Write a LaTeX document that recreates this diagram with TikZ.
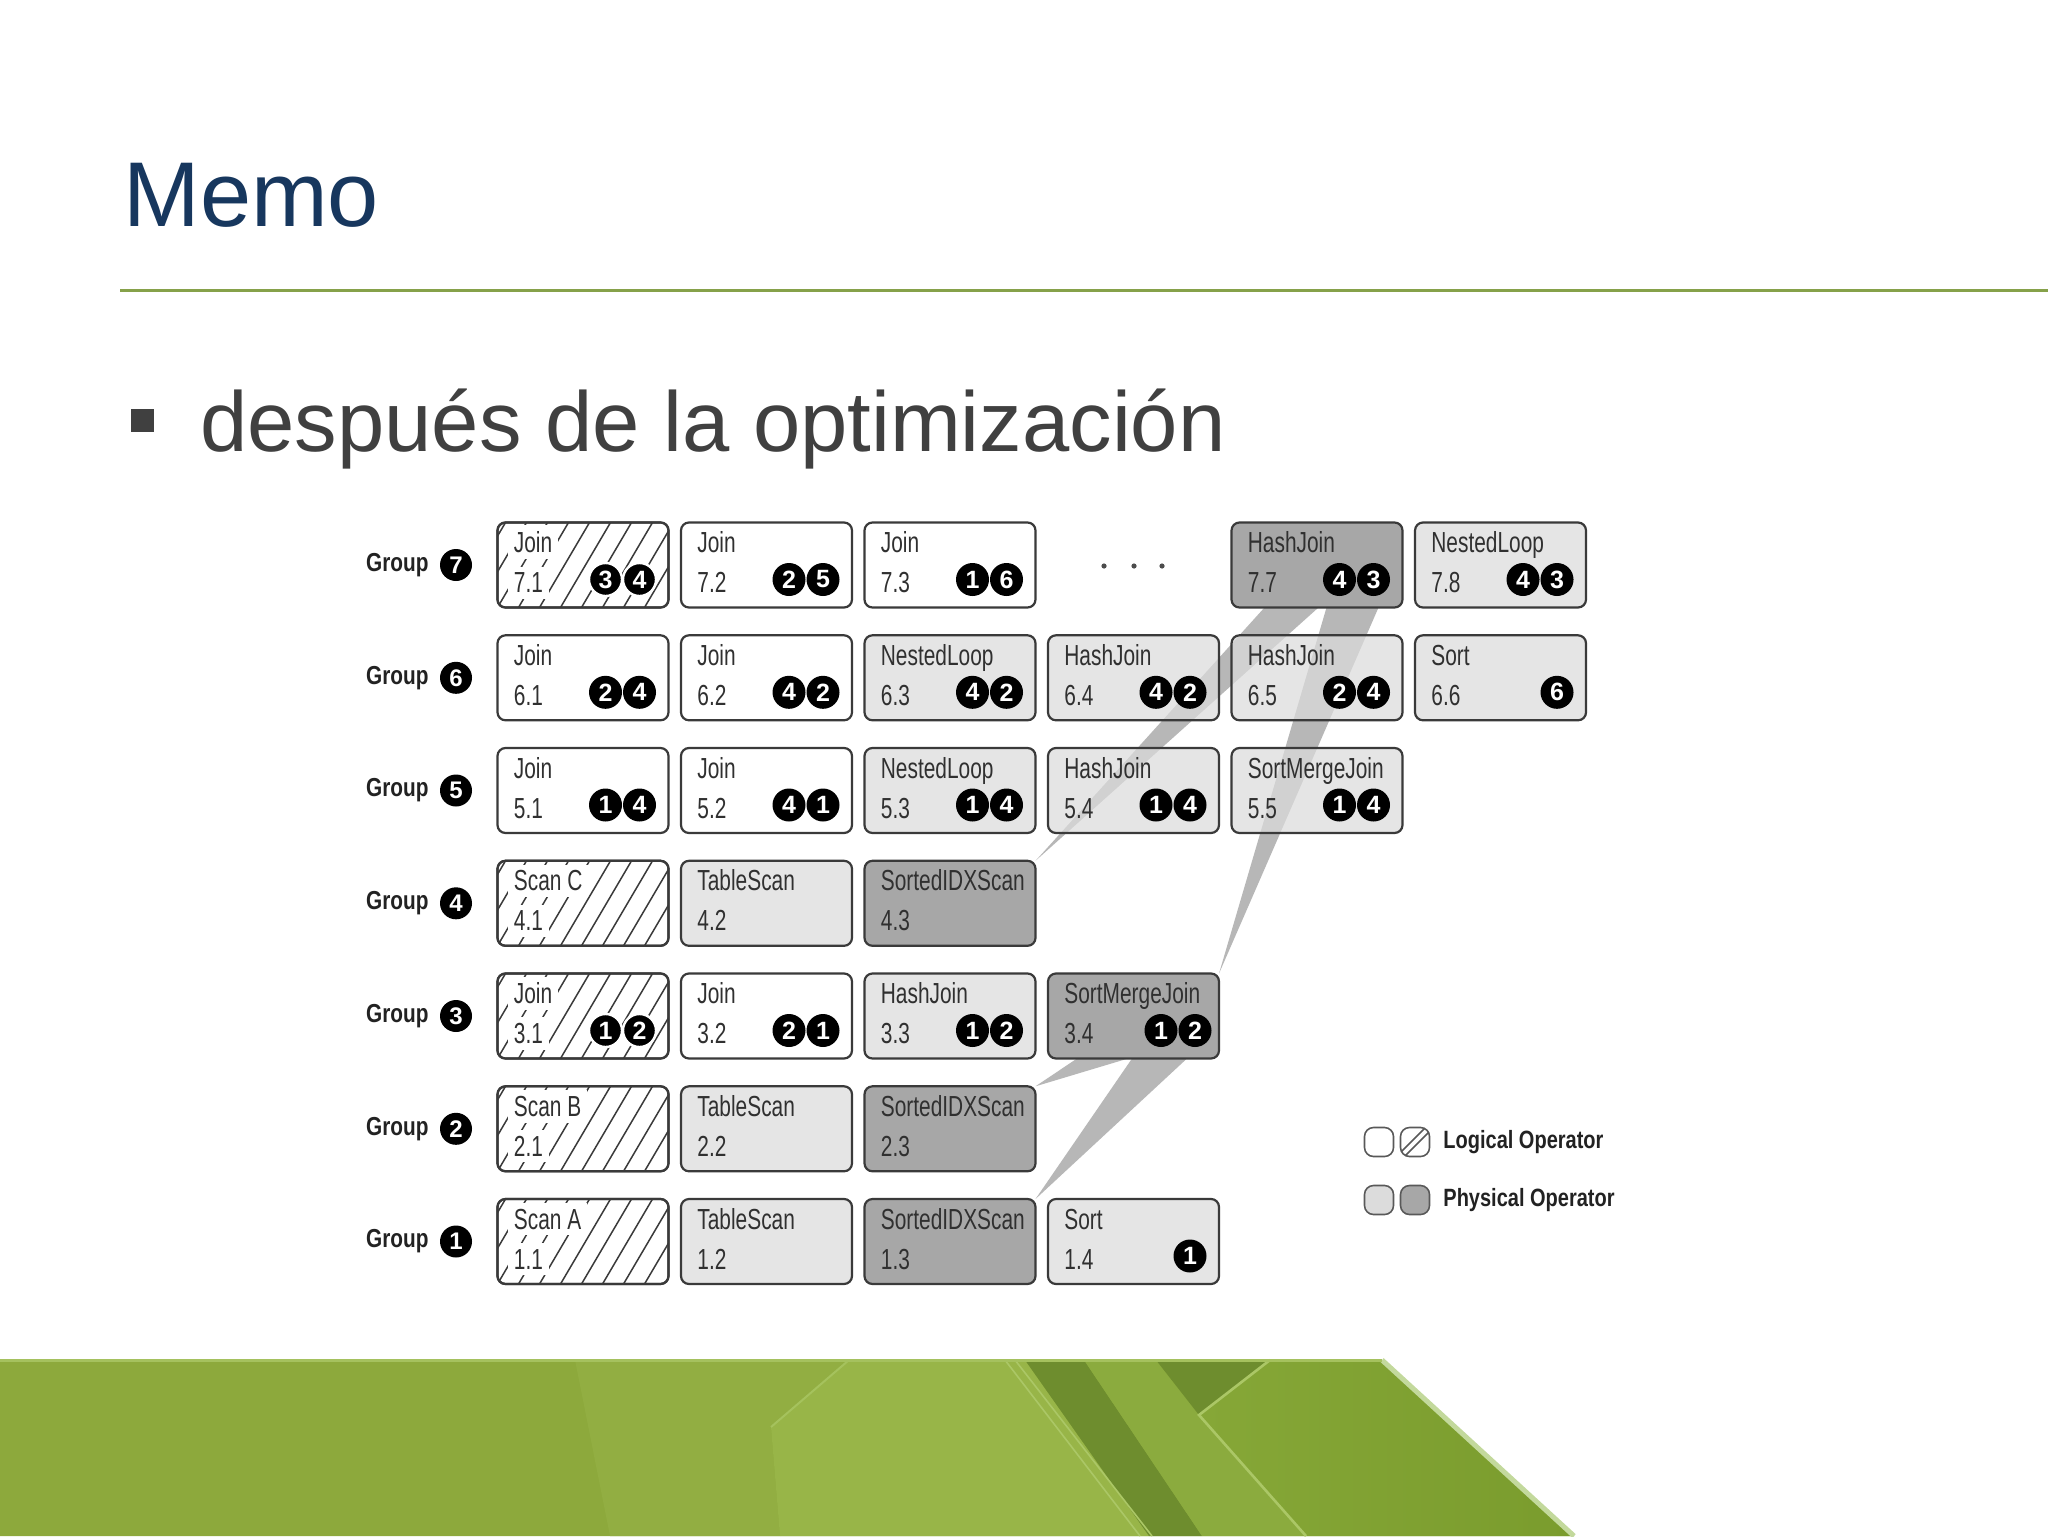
\documentclass[tikz,border=0pt]{standalone}
\usepackage{fontspec}
\setmainfont{Liberation Sans}
\newfontfamily\boxfont[FakeStretch=0.72]{Liberation Sans}
\newfontfamily\grpfont[FakeStretch=0.8]{Liberation Sans}
\usetikzlibrary{calc,backgrounds}

\definecolor{titleblue}{HTML}{17375E}
\definecolor{rulegreen}{HTML}{86A14A}
\definecolor{bodygray}{HTML}{404040}
\definecolor{boxedge}{HTML}{3A3A3A}
\definecolor{boxlight}{HTML}{DCDCDC}
\definecolor{boxdark}{HTML}{A7A7A7}
\definecolor{bandgray}{HTML}{B7B7B7}
\definecolor{optextc}{HTML}{303030}
\definecolor{grptextc}{HTML}{222222}
\definecolor{bnbase}{HTML}{8DA93C}
\definecolor{bnlight}{HTML}{92AE42}
\definecolor{bnbright}{HTML}{98B548}
\definecolor{bndark}{HTML}{6E8D2E}
\definecolor{bnmid}{HTML}{8BAB3E}
\definecolor{bnright}{HTML}{86A737}
\definecolor{bnrightd}{HTML}{7A9C2D}
\definecolor{bnline}{HTML}{ABC766}
\definecolor{bnedge}{HTML}{C3D99C}

\tikzset{
  opbase/.style={rectangle, rounded corners=4pt, draw=boxedge, line width=1.1pt,
    minimum width=85.5pt, minimum height=42.5pt, inner sep=0pt, outer sep=0pt, anchor=north west},
  logbox/.style={opbase, fill=white},
  physlight/.style={opbase, fill=boxlight, fill opacity=0.72},
  physdark/.style={opbase, fill=boxdark},
  hatchbox/.style={opbase, fill=white},
  hatchline/.style={draw=boxedge, line width=0.75pt},
  optext/.style={font=\boxfont\fontsize{14.5pt}{16pt}\selectfont, text=optextc, inner sep=0pt, anchor=base west},
  kid/.style={circle, fill=black, text=white, minimum size=16.5pt, inner sep=0pt,
    font=\bfseries\fontsize{12.5pt}{13pt}\selectfont},
  hkid/.style={kid, draw=white, line width=1.2pt},
  grplbl/.style={font=\grpfont\bfseries\fontsize{13pt}{14pt}\selectfont, text=grptextc, inner sep=0pt, anchor=east},
  grpnum/.style={circle, fill=black, text=white, minimum size=16pt, inner sep=0pt,
    font=\bfseries\fontsize{12pt}{13pt}\selectfont},
  legicon/.style={rectangle, rounded corners=4.5pt, draw=black!65, line width=0.8pt,
    minimum size=14.5pt, inner sep=0pt, outer sep=0pt},
  legtext/.style={font=\grpfont\bfseries\fontsize{12.5pt}{14pt}\selectfont, text=grptextc, inner sep=0pt, anchor=west},
  titletext/.style={font=\fontsize{46pt}{50pt}\selectfont, text=titleblue, inner sep=0pt, anchor=base west},
  bullettext/.style={font=\fontsize{42.5pt}{46pt}\selectfont, text=bodygray, inner sep=0pt, anchor=base west},
}

% name, x, y, style, operator, number
\newcommand{\opbox}[6]{%
  \node[#4] (#1) at (#2,#3) {};
  \node[optext] (#1-op) at ($(#1.north west)+(16,30)$) {#5};
  \node[optext] (#1-num) at ($(#1.north west)+(16,70)$) {#6};
}
% name, x, y, operator, number
\newcommand{\hatchedbox}[5]{%
  \node[hatchbox] (#1) at (#2,#3) {};
  \begin{scope}
    \clip[rounded corners=4pt] (#1.north west) rectangle (#1.south east);
    \foreach \k in {-3,...,8} \draw[hatchline] ($(#1.south west)+(\k*21,0)$) -- ++(50,-85);
  \end{scope}
  \draw[draw=boxedge, line width=1.1pt, rounded corners=4pt] (#1.north west) rectangle (#1.south east);
  \node[optext, fill=white, inner sep=3pt] (#1-op) at ($(#1.north west)+(10,30)$) {#4};
  \node[optext, fill=white, inner sep=3pt] (#1-num) at ($(#1.north west)+(10,70)$) {#5};
}
\newcommand{\kids}[3]{%
  \node[kid] (#1-a) at ($(#1.north west)+(108,57)$) {#2};
  \node[kid] (#1-b) at ($(#1.north west)+(142,57)$) {#3};
}
\newcommand{\hkids}[3]{%
  \node[hkid] (#1-a) at ($(#1.north west)+(108,57)$) {#2};
  \node[hkid] (#1-b) at ($(#1.north west)+(142,57)$) {#3};
}
\newcommand{\onekid}[2]{%
  \node[kid] (#1-a) at ($(#1.north west)+(142,57)$) {#2};
}

\def\cA{497.5}\def\cB{681}\def\cC{864.5}\def\cD{1048}\def\cE{1231.5}\def\cF{1415}
\def\rG{522.5}\def\rF{635.3}\def\rE{748}\def\rD{860.8}\def\rC{973.5}\def\rB{1086.3}\def\rA{1199}

\begin{document}
\begin{tikzpicture}[x=0.5pt,y=-0.5pt]
\useasboundingbox (0,0) rectangle (2048,1536);

% ---------- bottom banner ----------
\fill[bnbase] (0,1360) -- (1382,1360) -- (1574,1536) -- (0,1536) -- cycle;
\fill[bnlight] (575,1360) -- (849,1360) -- (771,1427) -- (780,1536) -- (610,1536) -- cycle;
\fill[bnbright] (849,1360) -- (1025,1360) -- (1149,1536) -- (780,1536) -- (771,1427) -- cycle;
\fill[bndark] (1025,1360) -- (1084,1360) -- (1202,1536) -- (1149,1536) -- cycle;
\fill[bnmid] (1084,1360) -- (1156,1360) -- (1199,1415) -- (1306,1536) -- (1202,1536) -- cycle;
\fill[bndark] (1156,1360) -- (1270,1360) -- (1199,1415) -- cycle;
\shade[left color=bnright, right color=bnrightd] (1270,1360) -- (1382,1360) -- (1574,1536) -- (1306,1536) -- (1199,1415) -- cycle;
\draw[bnline, line width=0.8pt] (1005,1360) -- (1140,1536);
\draw[bnline, line width=0.8pt] (1015,1360) -- (1152,1536);
\draw[bnline!70!bnbright, line width=1pt] (849,1360) -- (771,1427);
\draw[bnline, line width=1.3pt] (1270,1360) -- (1199,1415) -- (1306,1536);
\draw[bnedge, line width=2.5pt] (1382,1360) -- (1574,1536);
\draw[bnline!80!bnbase, line width=1.5pt] (0,1360) -- (1382,1360);

% ---------- title ----------
\node[titletext] (title) at (123,226) {Memo};
\draw[rulegreen, line width=1.5pt] (120,290) -- (2048,290);
\fill[bodygray] (131,409) rectangle (154,432);
\node[bullettext] (bullet) at (200,451) {después de la optimización};

% ---------- group labels ----------
\foreach \g/\yy in {7/\rG, 6/\rF, 5/\rE, 4/\rD, 3/\rC, 2/\rB, 1/\rA} {
  \node[grplbl] (grp\g) at (429,\yy+42.5) {Group};
  \node[grpnum] (grpc\g) at (456,\yy+42.5) {\g};
}

% ---------- row 7 ----------
\hatchedbox{b71}{\cA}{\rG}{Join}{7.1}\hkids{b71}{3}{4}
\opbox{b72}{\cB}{\rG}{logbox}{Join}{7.2}\kids{b72}{2}{5}
\opbox{b73}{\cC}{\rG}{logbox}{Join}{7.3}\kids{b73}{1}{6}
\foreach \dx in {1104,1134,1162} \fill[black!70] (\dx,566) circle (2.6);
\opbox{b77}{\cE}{\rG}{physdark}{HashJoin}{7.7}\kids{b77}{4}{3}
\opbox{b78}{\cF}{\rG}{physlight}{NestedLoop}{7.8}\kids{b78}{4}{3}

% ---------- row 6 ----------
\opbox{b61}{\cA}{\rF}{logbox}{Join}{6.1}\kids{b61}{2}{4}
\opbox{b62}{\cB}{\rF}{logbox}{Join}{6.2}\kids{b62}{4}{2}
\opbox{b63}{\cC}{\rF}{physlight}{NestedLoop}{6.3}\kids{b63}{4}{2}
\opbox{b64}{\cD}{\rF}{physlight}{HashJoin}{6.4}\kids{b64}{4}{2}
\opbox{b65}{\cE}{\rF}{physlight}{HashJoin}{6.5}\kids{b65}{2}{4}
\opbox{b66}{\cF}{\rF}{physlight}{Sort}{6.6}\onekid{b66}{6}

% ---------- row 5 ----------
\opbox{b51}{\cA}{\rE}{logbox}{Join}{5.1}\kids{b51}{1}{4}
\opbox{b52}{\cB}{\rE}{logbox}{Join}{5.2}\kids{b52}{4}{1}
\opbox{b53}{\cC}{\rE}{physlight}{NestedLoop}{5.3}\kids{b53}{1}{4}
\opbox{b54}{\cD}{\rE}{physlight}{HashJoin}{5.4}\kids{b54}{1}{4}
\opbox{b55}{\cE}{\rE}{physlight}{SortMergeJoin}{5.5}\kids{b55}{1}{4}

% ---------- row 4 ----------
\hatchedbox{b41}{\cA}{\rD}{Scan C}{4.1}
\opbox{b42}{\cB}{\rD}{physlight}{TableScan}{4.2}
\opbox{b43}{\cC}{\rD}{physdark}{SortedIDXScan}{4.3}

% ---------- row 3 ----------
\hatchedbox{b31}{\cA}{\rC}{Join}{3.1}\hkids{b31}{1}{2}
\opbox{b32}{\cB}{\rC}{logbox}{Join}{3.2}\kids{b32}{2}{1}
\opbox{b33}{\cC}{\rC}{physlight}{HashJoin}{3.3}\kids{b33}{1}{2}
\opbox{b34}{\cD}{\rC}{physdark}{SortMergeJoin}{3.4}
\node[kid] (b34-a) at ($(b34.north west)+(113,57)$) {1};
\node[kid] (b34-b) at ($(b34.north west)+(147,57)$) {2};

% ---------- row 2 ----------
\hatchedbox{b21}{\cA}{\rB}{Scan B}{2.1}
\opbox{b22}{\cB}{\rB}{physlight}{TableScan}{2.2}
\opbox{b23}{\cC}{\rB}{physdark}{SortedIDXScan}{2.3}

% ---------- row 1 ----------
\hatchedbox{b11}{\cA}{\rA}{Scan A}{1.1}
\opbox{b12}{\cB}{\rA}{physlight}{TableScan}{1.2}
\opbox{b13}{\cC}{\rA}{physdark}{SortedIDXScan}{1.3}
\opbox{b14}{\cD}{\rA}{physlight}{Sort}{1.4}\onekid{b14}{1}

% ---------- legend ----------
\node[legicon, fill=white] (lg1) at (1379,1142) {};
\node[legicon, fill=white] (lg2) at (1415,1142) {};
\begin{scope}
  \clip[rounded corners=4.5pt] (lg2.north west) rectangle (lg2.south east);
  \draw[black!65, line width=0.8pt] ($(lg2.south west)+(-4,0)$) -- ++(29,-29);
  \draw[black!65, line width=0.8pt] ($(lg2.south west)+(4,0)$) -- ++(29,-29);
\end{scope}
\node[legicon, fill=boxlight] (lg3) at (1379,1200) {};
\node[legicon, fill=boxdark] (lg4) at (1415,1200) {};
\node[legtext] (lgl) at (1443,1142) {Logical Operator};
\node[legtext] (lgp) at (1443,1200) {Physical Operator};

% ---------- shaded connectors (behind boxes) ----------
\begin{pgfonlayer}{background}
  \fill[white] (0,0) rectangle (2048,1536);
  \fill[bandgray] ($(b77.south west)+(33,0)$) -- ($(b77.south west)+(87,0)$) -- (b43.north east) -- cycle;
  \fill[bandgray] ($(b77.south west)+(95,0)$) -- ($(b77.south west)+(147,0)$) -- (b34.north east) -- cycle;
  \fill[bandgray] ($(b34.south west)+(29,0)$) -- ($(b34.south west)+(80,0)$) -- (b23.north east) -- cycle;
  \fill[bandgray] ($(b34.south west)+(84,0)$) -- ($(b34.south west)+(139,0)$) -- (b13.north east) -- cycle;
\end{pgfonlayer}
\end{tikzpicture}
\end{document}
